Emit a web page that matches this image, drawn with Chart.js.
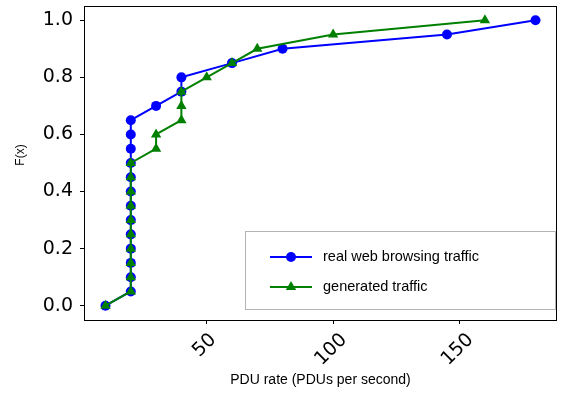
<!DOCTYPE html>
<html>
<head>
<meta charset="utf-8">
<script src="https://cdn.jsdelivr.net/npm/chart.js@4.4.1/dist/chart.umd.min.js"></script>
<style>
  html, body { margin: 0; padding: 0; background: #fff; }
  #wrap { width: 563px; height: 393px; }
</style>
</head>
<body>
<div id="wrap"><canvas id="cdfChart"></canvas></div>
<script>
/* CDF of PDU rate: real vs generated traffic */

const realX = [10, 20, 20, 20, 20, 20, 20, 20, 20, 20, 20, 20, 20, 20, 30, 40, 40, 60, 80, 145, 180];
const realY = [0, 0.05, 0.1, 0.15, 0.2, 0.25, 0.3, 0.35, 0.4, 0.45, 0.5, 0.55, 0.6, 0.65, 0.7, 0.75, 0.8, 0.85, 0.9, 0.95, 1.0];

const genX = [10, 20, 20, 20, 20, 20, 20, 20, 20, 20, 20, 30, 30, 40, 40, 40, 50, 60, 70, 100, 160];
const genY = [0, 0.05, 0.1, 0.15, 0.2, 0.25, 0.3, 0.35, 0.4, 0.45, 0.5, 0.55, 0.6, 0.65, 0.7, 0.75, 0.8, 0.85, 0.9, 0.95, 1.0];

const xTicks = [50, 100, 150];
const yTicks = [0, 0.2, 0.4, 0.6, 0.8, 1.0];

const seriesLabels = ["real web browsing traffic", "generated traffic"];
const xTitle = "PDU rate (PDUs per second)";
const yTitle = "F(x)";
const BLUE = "#0000ff";
const GREEN = "#008000";
const TICK_FONT = 19;

const pts = (xs, ys) => xs.map((x, i) => ({ x, y: ys[i] }));

// box around the plot area, like matplotlib spines
const spines = {
  id: "spines",
  afterDatasetsDraw(chart) {
    const { ctx, chartArea: a } = chart;
    ctx.save();
    ctx.strokeStyle = "#000";
    ctx.lineWidth = 1;
    ctx.strokeRect(Math.round(a.left) + 0.5, Math.round(a.top) + 0.5,
      Math.round(a.right - a.left) - 1, Math.round(a.bottom - a.top));
    ctx.restore();
  },
};

// rotated x tick labels centred under the tick, plus the y title
const extraText = {
  id: "extraText",
  afterDraw(chart) {
    const { ctx, chartArea: a } = chart;
    const xs = chart.scales.x;
    ctx.save();
    ctx.fillStyle = "#000";
    ctx.font = TICK_FONT + "px 'DejaVu Sans'";
    ctx.textAlign = "center";
    ctx.textBaseline = "middle";
    xs.ticks.forEach((t) => {
      const label = String(t.value);
      const w = ctx.measureText(label).width;
      const side = (w + 14) / Math.SQRT2;
      const cx = xs.getPixelForValue(t.value) - 2;
      const cy = a.bottom + 12 + side / 2;
      ctx.save();
      ctx.translate(cx, cy);
      ctx.rotate(-Math.PI / 4);
      ctx.fillText(label, 0, 0);
      ctx.restore();
    });
    ctx.font = "12px 'Liberation Sans', Arial, sans-serif";
    ctx.translate(21, (a.top + a.bottom) / 2 - 8);
    ctx.rotate(-Math.PI / 2);
    ctx.fillText(yTitle, 0, 0);
    ctx.restore();
  },
};

// legend box in lower right of plot area
const boxLegend = {
  id: "boxLegend",
  afterDraw(chart) {
    const { ctx, chartArea: a } = chart;
    const right = a.right - 2, bottom = a.bottom - 11;
    const w = 310, h = 78;
    const left = right - w, top = bottom - h;
    ctx.save();
    ctx.fillStyle = "rgba(255,255,255,0.8)";
    ctx.strokeStyle = "#b4b4b4";
    ctx.lineWidth = 1;
    ctx.fillRect(left, top, w, h);
    ctx.strokeRect(Math.round(left) + 0.5, Math.round(top) + 0.5, w, h);
    ctx.textBaseline = "middle";
    chart.data.datasets.forEach((ds, i) => {
      const y = top + 26 + i * 30;
      const x0 = left + 25, x1 = left + 67, xm = (x0 + x1) / 2;
      ctx.strokeStyle = ds.borderColor;
      ctx.fillStyle = ds.backgroundColor;
      ctx.lineWidth = 2;
      ctx.beginPath();
      ctx.moveTo(x0, y);
      ctx.lineTo(x1, y);
      ctx.stroke();
      ctx.lineWidth = 0;
      Chart.helpers.drawPoint(ctx, {
        pointStyle: ds.pointStyle,
        radius: ds.pointRadius,
        borderWidth: 0,
        rotation: 0,
      }, xm, y);
      ctx.fillStyle = "#000";
      ctx.font = "14.5px 'Liberation Sans', Arial, sans-serif";
      ctx.fillText(ds.label, left + 78, y);
    });
    ctx.restore();
  },
};

new Chart(document.getElementById("cdfChart"), {
  type: "scatter",
  data: {
    datasets: [
      {
        label: seriesLabels[0],
        data: pts(realX, realY),
        showLine: true,
        borderColor: BLUE,
        backgroundColor: BLUE,
        borderWidth: 2,
        pointStyle: "circle",
        pointRadius: 5,
        pointBorderWidth: 0,
        order: 2,
      },
      {
        label: seriesLabels[1],
        data: pts(genX, genY),
        showLine: true,
        borderColor: GREEN,
        backgroundColor: GREEN,
        borderWidth: 2,
        pointStyle: "triangle",
        pointRadius: 6,
        pointBorderWidth: 0,
        order: 1,
      },
    ],
  },
  options: {
    responsive: true,
    maintainAspectRatio: false,
    animation: false,
    layout: { padding: { top: 4, right: 1.5, left: 0, bottom: 0 } },
    plugins: {
      legend: { display: false },
      tooltip: { enabled: false },
    },
    scales: {
      x: {
        type: "linear",
        min: 1.5,
        max: 188.5,
        afterBuildTicks: (s) => { s.ticks = xTicks.map((v) => ({ value: v })); },
        afterFit: (s) => { s.height = 73; s.paddingLeft = 0; s.paddingRight = 0; },
        grid: { drawOnChartArea: false, drawTicks: true, tickLength: 4, color: "#000" },
        border: { display: false },
        ticks: { display: false },
        title: {
          display: true,
          text: xTitle,
          color: "#000",
          font: { family: "'Liberation Sans', Arial, sans-serif", size: 14 },
          padding: { top: 0, bottom: 4 },
        },
      },
      y: {
        type: "linear",
        min: -0.05,
        max: 1.05,
        afterBuildTicks: (s) => { s.ticks = yTicks.map((v) => ({ value: v })); },
        afterFit: (s) => { s.width = 84; s.paddingTop = 0; s.paddingBottom = 0; },
        grid: { drawOnChartArea: false, drawTicks: true, tickLength: 4, color: "#000" },
        border: { display: false },
        ticks: {
          color: "#000",
          font: { family: "'DejaVu Sans'", size: TICK_FONT },
          padding: 7,
          callback: (v) => Number(v).toFixed(1),
        },
      },
    },
  },
  plugins: [spines, extraText, boxLegend],
});
</script>
</body>
</html>
